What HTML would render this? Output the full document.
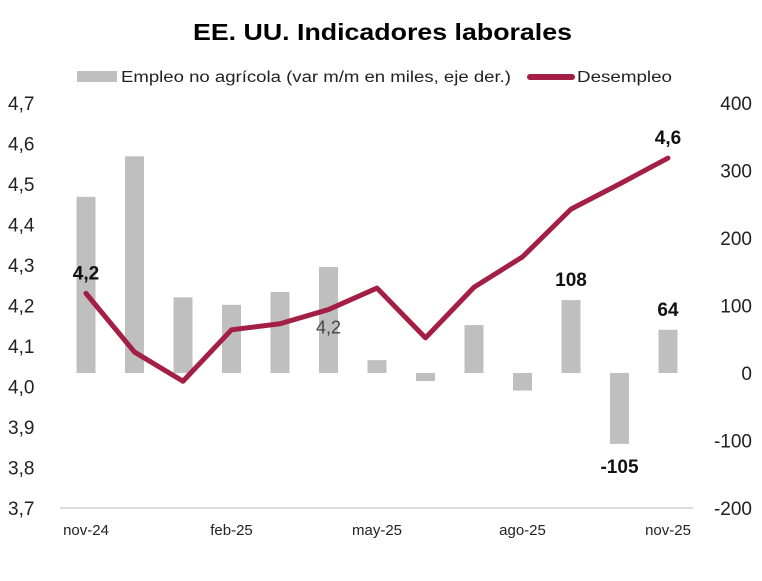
<!DOCTYPE html>
<html><head><meta charset="utf-8"><style>
body{margin:0;background:#fff;font-family:"Liberation Sans",sans-serif}
svg text{font-family:"Liberation Sans",sans-serif}
</style></head><body>
<svg id="c" width="762" height="576">
<text x="193" y="40" textLength="379" lengthAdjust="spacingAndGlyphs" font-size="23" font-weight="bold" fill="#000">EE. UU. Indicadores laborales</text>
<g>
<rect x="77" y="71" width="40" height="11" fill="#bfbfbf"/>
<text x="121" y="82" textLength="390" lengthAdjust="spacingAndGlyphs" font-size="15.5" fill="#222">Empleo no agrícola (var m/m en miles, eje der.)</text>
<line x1="530" y1="77" x2="572" y2="77" stroke="#a31f45" stroke-width="6" stroke-linecap="round"/>
<text x="577" y="82" textLength="95" lengthAdjust="spacingAndGlyphs" font-size="15.5" fill="#222">Desempleo</text>
</g>
<g id="g"></g>
</svg>
<script>
const months=["nov-24","dic-24","ene-25","feb-25","mar-25","abr-25","may-25","jun-25","jul-25","ago-25","sep-25","oct-25","nov-25"];
const payrolls=[261,321,112,101,120,157,19,-12,71,-26,108,-105,64];
const unemployment=[4.23,4.085,4.013,4.14,4.155,4.19,4.243,4.12,4.245,4.32,4.438,4.5,4.564];
const leftTicks=[3.7,3.8,3.9,4.0,4.1,4.2,4.3,4.4,4.5,4.6,4.7];
const rightTicks=[-200,-100,0,100,200,300,400];
const xLabelIdx=[0,3,6,9,12];
const barLabels={10:"108",11:"-105",12:"64"};
const lineLabels={0:"4,2",12:"4,6"};
const NS="http://www.w3.org/2000/svg",g=document.getElementById("g");
const xs=i=>86+i*48.5;
const yl=v=>508-(v-3.7)*405;
const yr=v=>373-v*0.675;
function mk(t,a,txt){const e=document.createElementNS(NS,t);for(const k in a)e.setAttribute(k,a[k]);if(txt!=null)e.textContent=txt;g.appendChild(e);return e;}
leftTicks.forEach(v=>{const e=mk("text",{x:8,y:yl(v)+7,"font-size":"19",fill:"#222"},v.toFixed(1).replace(".",","));

});
rightTicks.forEach(v=>{const e=mk("text",{x:752,y:yr(v)+7,"font-size":"19",fill:"#222","text-anchor":"end"},String(v));

});
const ax=mk("line",{x1:60,y1:508,x2:693,y2:508,stroke:"#bbb","stroke-width":1});


xLabelIdx.forEach(i=>{const e=mk("text",{x:xs(i),y:535,"font-size":"15",fill:"#222","text-anchor":"middle"},months[i]);

});
payrolls.forEach((v,i)=>{const y0=yr(0),y1=yr(v);const r=mk("rect",{x:xs(i)-9.5,y:Math.min(y0,y1),width:19,height:Math.abs(y1-y0),fill:"#bfbfbf"});


if(barLabels[i]){const t=mk("text",{x:xs(i),y:v<0?y1+29:y1-14,"font-size":"19","font-weight":"bold","text-anchor":"middle",fill:"#111"},barLabels[i]);

}});
const p=mk("polyline",{points:unemployment.map((v,i)=>xs(i)+","+yl(v)).join(" "),fill:"none",stroke:"#a31f45","stroke-width":5,"stroke-linejoin":"round","stroke-linecap":"round"});


for(const i in lineLabels){const t=mk("text",{x:xs(+i),y:yl(unemployment[i])-14,"font-size":"19","font-weight":"bold","text-anchor":"middle",fill:"#111"},lineLabels[i]);

}
const t5=mk("text",{x:xs(5),y:yl(unemployment[5])+24,"font-size":"18","text-anchor":"middle",fill:"#444"},"4,2");


</script>
</body></html>
